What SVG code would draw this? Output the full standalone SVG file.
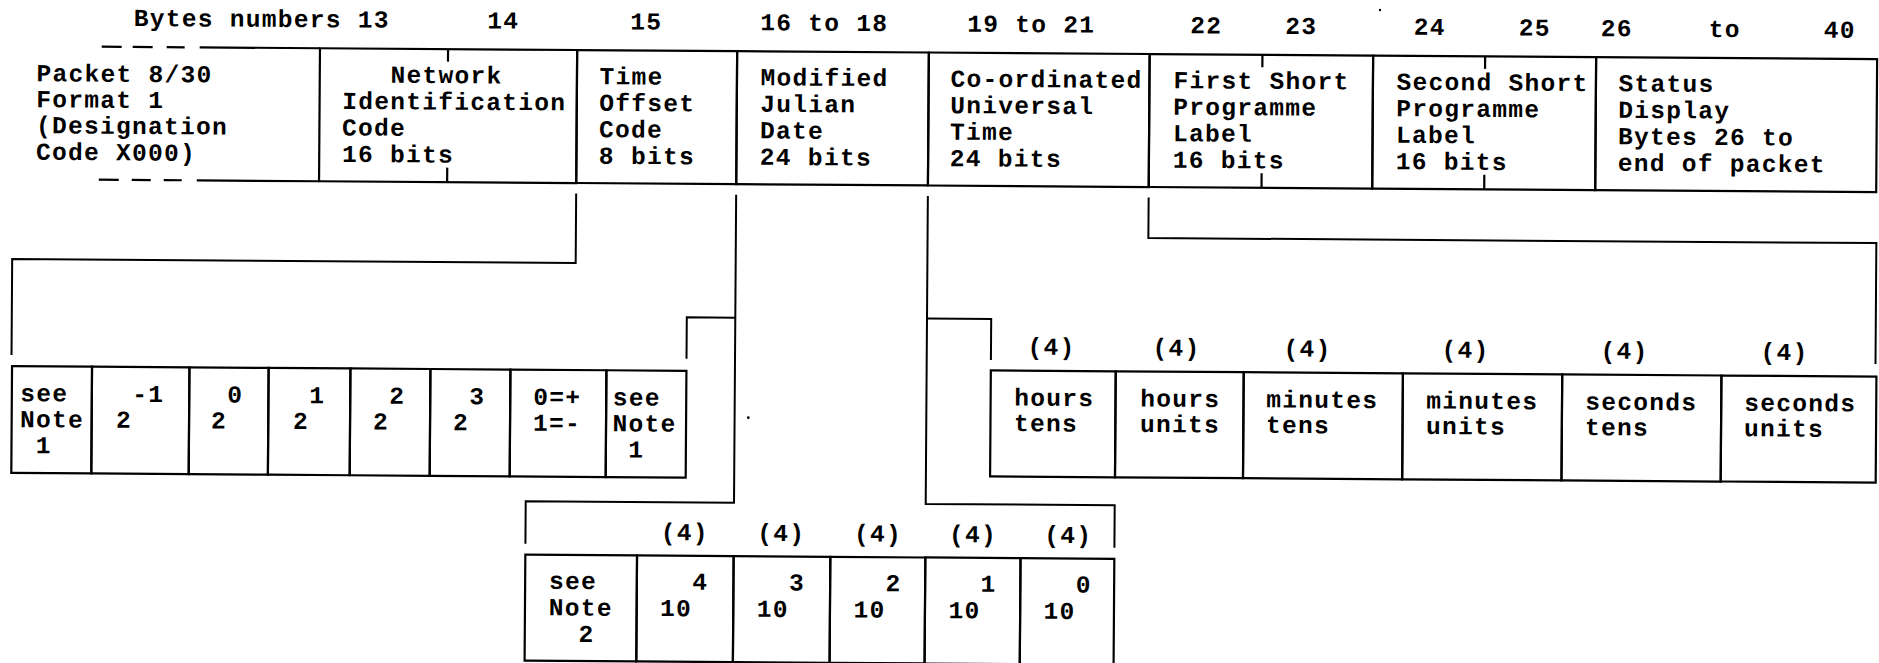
<svg xmlns="http://www.w3.org/2000/svg" width="1879" height="663" viewBox="0 0 1879 663">
<style>
.t{font-family:"Liberation Mono","DejaVu Sans Mono",monospace;font-size:24.5px;letter-spacing:1.3px;font-weight:bold;fill:#000}
.b{fill:none;stroke:#000;stroke-width:2.2}
.c{fill:none;stroke:#000;stroke-width:2}
</style>
<rect x="0" y="0" width="1879" height="663" fill="#fff"/>
<g transform="rotate(0.4)">
<g id="header">
<text class="t" x="134" y="25">Bytes numbers 13</text>
<text class="t" x="487.5" y="25">14</text>
<text class="t" x="630.5" y="25">15</text>
<text class="t" x="760.5" y="25">16 to 18</text>
<text class="t" x="967.5" y="25">19 to 21</text>
<text class="t" x="1190.5" y="25">22</text>
<text class="t" x="1285.5" y="25">23</text>
<text class="t" x="1414" y="25">24</text>
<text class="t" x="1519" y="25">25</text>
<text class="t" x="1601" y="25">26</text>
<text class="t" x="1709" y="25">to</text>
<text class="t" x="1824" y="25">40</text>
</g>
<g id="packet">
<path class="b" d="M102 46H122M133 46H153M167 46H185M200 46H320.3M100 179H120M133 179H152M165 179H183M198 179H320.3"/>
<text class="t"><tspan x="37" y="81">Packet 8/30</tspan><tspan x="37" y="107">Format 1</tspan><tspan x="37" y="133">(Designation</tspan><tspan x="37" y="159.5">Code X000)</tspan></text>
</g>
<g id="nic">
<rect class="b" x="320.3" y="46" width="257.2" height="133"/>
<path class="b" d="M448.4 46V58.5M448.4 164.5V179"/>
<text class="t"><tspan x="391" y="80">Network</tspan><tspan x="343" y="106.5">Identification</tspan><tspan x="343" y="133">Code</tspan><tspan x="343" y="159.5">16 bits</tspan></text>
</g>
<g id="toc">
<rect class="b" x="577.5" y="46" width="160" height="133"/>
<text class="t"><tspan x="600" y="80">Time</tspan><tspan x="600" y="106.5">Offset</tspan><tspan x="600" y="133">Code</tspan><tspan x="600" y="159.5">8 bits</tspan></text>
</g>
<g id="mjd">
<rect class="b" x="737.5" y="46" width="191.7" height="133"/>
<text class="t"><tspan x="761" y="80">Modified</tspan><tspan x="761" y="106.5">Julian</tspan><tspan x="761" y="133">Date</tspan><tspan x="761" y="159.5">24 bits</tspan></text>
</g>
<g id="utc">
<rect class="b" x="929.2" y="46" width="220.8" height="133"/>
<text class="t"><tspan x="951" y="80">Co-ordinated</tspan><tspan x="951" y="106.5">Universal</tspan><tspan x="951" y="133">Time</tspan><tspan x="951" y="159.5">24 bits</tspan></text>
</g>
<g id="spl1">
<rect class="b" x="1150" y="46" width="223.5" height="133"/>
<path class="b" d="M1262.8 46V58.5M1262.8 164.5V179"/>
<text class="t"><tspan x="1174" y="80">First Short</tspan><tspan x="1174" y="106.5">Programme</tspan><tspan x="1174" y="133">Label</tspan><tspan x="1174" y="159.5">16 bits</tspan></text>
</g>
<g id="spl2">
<rect class="b" x="1373.5" y="46" width="223" height="133"/>
<path class="b" d="M1485.5 46V58.5M1485.5 164.5V179"/>
<text class="t"><tspan x="1397" y="80">Second Short</tspan><tspan x="1397" y="106.5">Programme</tspan><tspan x="1397" y="133">Label</tspan><tspan x="1397" y="159.5">16 bits</tspan></text>
</g>
<g id="status">
<rect class="b" x="1596.5" y="46" width="281" height="133"/>
<text class="t"><tspan x="1619" y="80">Status</tspan><tspan x="1619" y="106.5">Display</tspan><tspan x="1619" y="133">Bytes 26 to</tspan><tspan x="1619" y="159.5">end of packet</tspan></text>
</g>
<g id="connectors">
<path class="c" d="M577.5 189.5V259H14V355"/>
<path class="c" d="M737.5 189.5V497.5H529.2V540"/>
<path class="c" d="M737.5 312.5H689V354"/>
<path class="c" d="M929.2 189.5V497.5H1118.2V540"/>
<path class="c" d="M929.2 312H993.4V353"/>
<path class="c" d="M1150 189.5V230H1878V351"/>
</g>
<g id="toc-bits">
<g id="toc-note1a"><rect class="b" x="14.6" y="366" width="80" height="106.8"/>
<text class="t"><tspan x="23" y="401">see</tspan><tspan x="23" y="427">Note</tspan><tspan x="39" y="453">1</tspan></text></g>
<g id="toc-2m1"><rect class="b" x="94.6" y="366" width="97.4" height="106.8"/>
<text class="t"><tspan x="119" y="427">2</tspan><tspan x="135" y="401">-1</tspan></text></g>
<g id="toc-20"><rect class="b" x="192" y="366" width="79.2" height="106.8"/>
<text class="t"><tspan x="214" y="427">2</tspan><tspan x="230" y="401">0</tspan></text></g>
<g id="toc-21"><rect class="b" x="271.2" y="366" width="81.8" height="106.8"/>
<text class="t"><tspan x="296" y="427">2</tspan><tspan x="312" y="401">1</tspan></text></g>
<g id="toc-22"><rect class="b" x="353" y="366" width="80" height="106.8"/>
<text class="t"><tspan x="376" y="427">2</tspan><tspan x="392" y="401">2</tspan></text></g>
<g id="toc-23"><rect class="b" x="433" y="366" width="80" height="106.8"/>
<text class="t"><tspan x="456" y="427">2</tspan><tspan x="472" y="401">3</tspan></text></g>
<g id="toc-sign"><rect class="b" x="513" y="366" width="96" height="106.8"/>
<text class="t"><tspan x="536" y="401">0=+</tspan><tspan x="536" y="427">1=-</tspan></text></g>
<g id="toc-note1b"><rect class="b" x="609" y="366" width="80" height="106.8"/>
<text class="t"><tspan x="615.5" y="401">see</tspan><tspan x="615.5" y="427">Note</tspan><tspan x="631.5" y="453">1</tspan></text></g>
</g>
<g id="mjd-digits">
<g id="mjd-note2"><rect class="b" x="529.2" y="551" width="111.7" height="106"/>
<text class="t"><tspan x="553" y="585">see</tspan><tspan x="553" y="611.5">Note</tspan><tspan x="583" y="638">2</tspan></text></g>
<g id="mjd-104"><rect class="b" x="640.9" y="551" width="96.6" height="106"/>
<text class="t"><tspan x="664.4" y="535.5">(4)</tspan><tspan x="664.4" y="611.5">10</tspan><tspan x="696.4" y="585">4</tspan></text></g>
<g id="mjd-103"><rect class="b" x="737.5" y="551" width="96.7" height="106"/>
<text class="t"><tspan x="761" y="535.5">(4)</tspan><tspan x="761" y="611.5">10</tspan><tspan x="793" y="585">3</tspan></text></g>
<g id="mjd-102"><rect class="b" x="834.2" y="551" width="95" height="106"/>
<text class="t"><tspan x="857.7" y="535.5">(4)</tspan><tspan x="857.7" y="611.5">10</tspan><tspan x="889.7" y="585">2</tspan></text></g>
<g id="mjd-101"><rect class="b" x="929.2" y="551" width="95.2" height="106"/>
<text class="t"><tspan x="952.7" y="535.5">(4)</tspan><tspan x="952.7" y="611.5">10</tspan><tspan x="984.7" y="585">1</tspan></text></g>
<g id="mjd-100"><rect class="b" x="1024.4" y="551" width="93.8" height="106"/>
<text class="t"><tspan x="1047.9" y="535.5">(4)</tspan><tspan x="1047.9" y="611.5">10</tspan><tspan x="1079.9" y="585">0</tspan></text></g>
</g>
<g id="utc-digits">
<g id="utc-ht"><rect class="b" x="993.4" y="363.5" width="124.9" height="106"/>
<text class="t"><tspan x="1030" y="347.5">(4)</tspan><tspan x="1017" y="398.5">hours</tspan><tspan x="1017" y="424">tens</tspan></text></g>
<g id="utc-hu"><rect class="b" x="1118.3" y="363.5" width="128" height="106"/>
<text class="t"><tspan x="1155" y="347.5">(4)</tspan><tspan x="1143" y="398.5">hours</tspan><tspan x="1143" y="424">units</tspan></text></g>
<g id="utc-mt"><rect class="b" x="1246.3" y="363.5" width="159.2" height="106"/>
<text class="t"><tspan x="1286" y="347.5">(4)</tspan><tspan x="1269" y="398.5">minutes</tspan><tspan x="1269" y="424">tens</tspan></text></g>
<g id="utc-mu"><rect class="b" x="1405.5" y="363.5" width="159.3" height="106"/>
<text class="t"><tspan x="1444" y="347.5">(4)</tspan><tspan x="1429" y="398.5">minutes</tspan><tspan x="1429" y="424">units</tspan></text></g>
<g id="utc-st"><rect class="b" x="1564.8" y="363.5" width="159.2" height="106"/>
<text class="t"><tspan x="1603" y="347.5">(4)</tspan><tspan x="1588" y="398.5">seconds</tspan><tspan x="1588" y="424">tens</tspan></text></g>
<g id="utc-su"><rect class="b" x="1724" y="363.5" width="155" height="106"/>
<text class="t"><tspan x="1763" y="347.5">(4)</tspan><tspan x="1747" y="398.5">seconds</tspan><tspan x="1747" y="424">units</tspan></text></g>
</g>
</g>
<circle cx="748.3" cy="417.7" r="1.4" fill="#000"/>
<circle cx="1380" cy="10" r="1.2" fill="#000"/>
</svg>
